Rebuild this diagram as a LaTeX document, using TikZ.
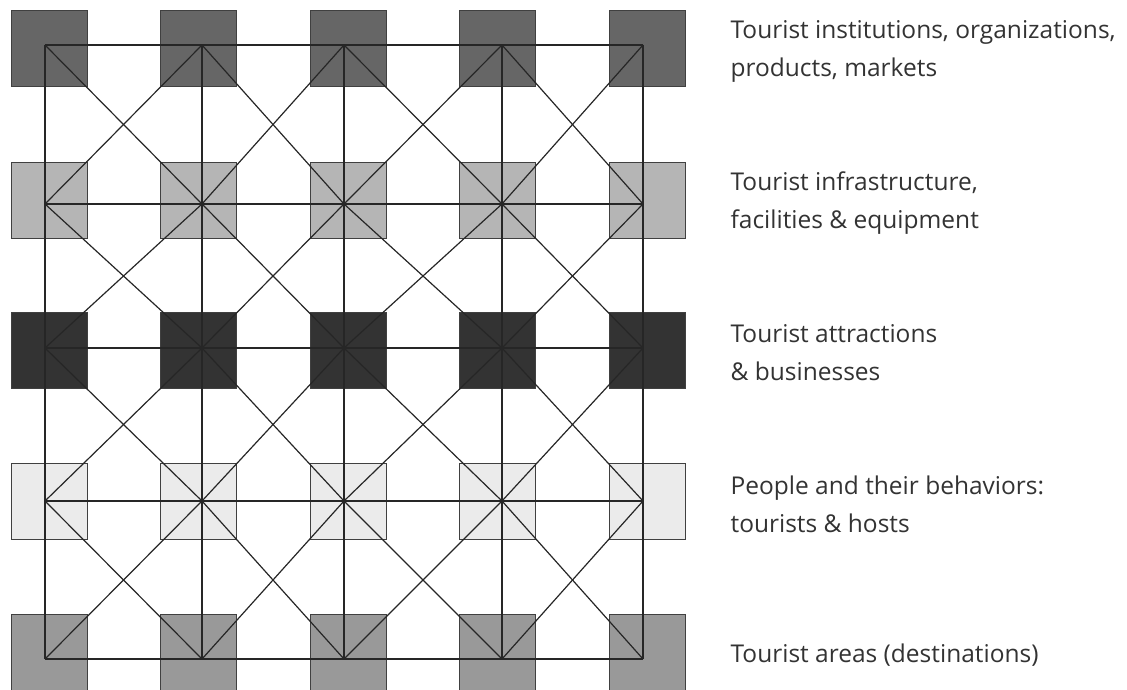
\documentclass[tikz,border=0pt]{standalone}
\usepackage{fontspec}
\setmainfont{Open Sans}
\usetikzlibrary{positioning}
\definecolor{tonea}{gray}{0.40}
\definecolor{toneb}{gray}{0.71}
\definecolor{tonec}{gray}{0.20}
\definecolor{toned}{gray}{0.92}
\definecolor{tonee}{gray}{0.60}
\tikzset{tile/.style = {
  % Square:
  rectangle, draw=black!75, line width=0.8pt,
  minimum size=76pt, inner sep=0pt,
  fill=#1
  }}
\tikzset{link/.style = {
  draw=black!85, line width=1.2pt
  }}
\tikzset{caption/.style = {
  % Text
  align=left, inner sep=0pt,
  text=black!80, yshift=-3pt,
  font=\fontsize{24.5}{38}\selectfont
  }}

\begin{document}
\begin{tikzpicture}[x=1pt,y=-1pt]
\useasboundingbox (0,0) rectangle (1127,690);

% TILES
\foreach \c/\sx in {1/49,2/198,3/348,4/497,5/647}{
  \foreach \r/\sy/\tone in {1/48/tonea,2/200/toneb,3/350/tonec,4/501/toned,5/652/tonee}
    \node (sq-\c-\r) [tile=\tone] at (\sx,\sy) {};
}

% GRID POINTS
\foreach \c/\gx in {1/45,2/202,3/344,4/502,5/643}{
  \foreach \r/\gy in {1/45,2/204,3/348,4/501,5/659}
    \coordinate (p-\c-\r) at (\gx,\gy);
}

% lines
\foreach \r in {1,...,5}
  \draw [link] (p-1-\r) -- (p-5-\r);
\foreach \c in {1,...,5}
  \draw [link] (p-\c-1) -- (p-\c-5);
\foreach \c [evaluate=\c as \n using int(\c+1)] in {1,...,4}{
  \foreach \r [evaluate=\r as \m using int(\r+1)] in {1,...,4}{
    \draw [link] (p-\c-\r) -- (p-\n-\m);
    \draw [link] (p-\n-\r) -- (p-\c-\m);
  }
}

% LABELS
\node (lbl-1) [caption, right=45pt of sq-5-1] {Tourist institutions, organizations,\\products, markets};
\node (lbl-2) [caption, right=45pt of sq-5-2] {Tourist infrastructure,\\facilities \& equipment};
\node (lbl-3) [caption, right=45pt of sq-5-3] {Tourist attractions\\\& businesses};
\node (lbl-4) [caption, right=45pt of sq-5-4] {People and their behaviors:\\tourists \& hosts};
\node (lbl-5) [caption, right=45pt of sq-5-5] {Tourist areas (destinations)};
\end{tikzpicture}
\end{document}
